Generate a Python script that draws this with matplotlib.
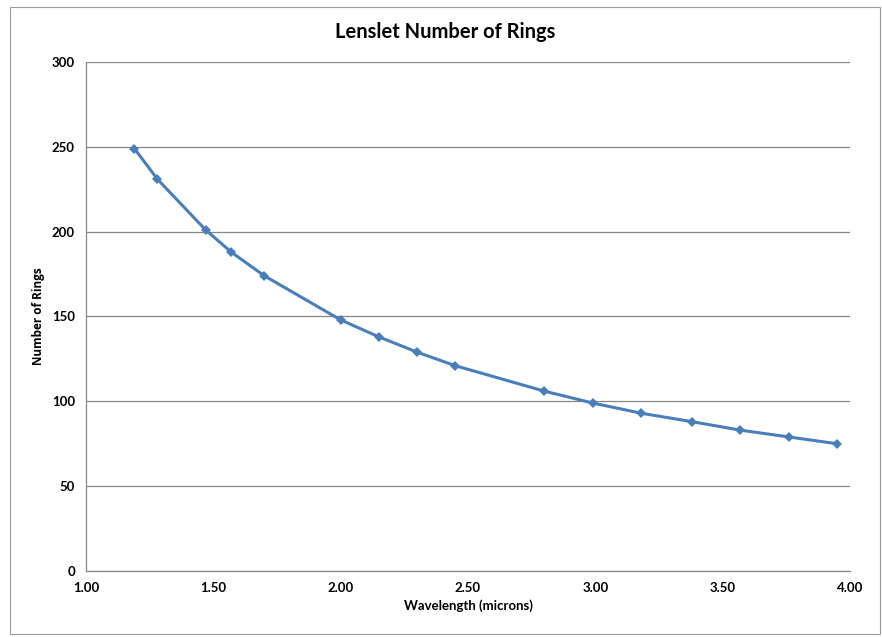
import matplotlib
matplotlib.use("Agg")
import matplotlib.pyplot as plt
from matplotlib.patches import Rectangle

# données
wavelength = [1.19, 1.28, 1.47, 1.57, 1.70, 2.00, 2.15, 2.30, 2.45,
              2.80, 2.99, 3.18, 3.38, 3.57, 3.76, 3.95]
rings = [249, 231, 201, 188, 174, 148, 138, 129, 121,
         106, 99, 93, 88, 83, 79, 75]
x_ticks = [1.00, 1.50, 2.00, 2.50, 3.00, 3.50, 4.00]
y_ticks = [0, 50, 100, 150, 200, 250, 300]

plt.rcParams['font.family'] = ['Lato', 'DejaVu Sans']

fig = plt.figure(figsize=(8.82, 6.37), dpi=100)
ax = fig.add_axes([0.0975, 0.1036, 0.8662, 0.7991])

ax.plot(wavelength, rings, '-D', color='#4A7EBB', linewidth=2.2,
        markersize=5.5, markeredgewidth=0)

ax.set_xlim(1.0, 4.0)
ax.set_ylim(0, 300)
ax.set_xticks(x_ticks)
ax.set_xticklabels([f"{v:.2f}" for v in x_ticks], fontweight='bold', fontsize=9.5)
ax.set_yticks(y_ticks)
ax.set_yticklabels([str(v) for v in y_ticks], fontweight='bold', fontsize=9.5)
ax.tick_params(length=0, pad=8)

ax.grid(axis='y', color='#868686', linewidth=0.9)
ax.set_axisbelow(True)
for s in ['top', 'right']:
    ax.spines[s].set_visible(False)
for s in ['left', 'bottom']:
    ax.spines[s].set_color('#868686')
    ax.spines[s].set_linewidth(0.9)

ax.set_xlabel("Wavelength (microns)", fontweight='bold', fontsize=9.5, labelpad=4)
ax.set_ylabel("Number of Rings", fontweight='bold', fontsize=8.5, labelpad=5,
              family=['Open Sans', 'DejaVu Sans'])
fig.text(0.505, 0.949, "Lenslet Number of Rings", ha='center', va='center',
         fontsize=14.5, fontweight='bold')

# bordure du cadre
fig.patches.append(Rectangle((0.011, 0.004), 0.987, 0.985, transform=fig.transFigure,
                             fill=False, edgecolor='#9a9a9a', linewidth=0.8))

fig.savefig("out.png", dpi=100)
plt.close()
